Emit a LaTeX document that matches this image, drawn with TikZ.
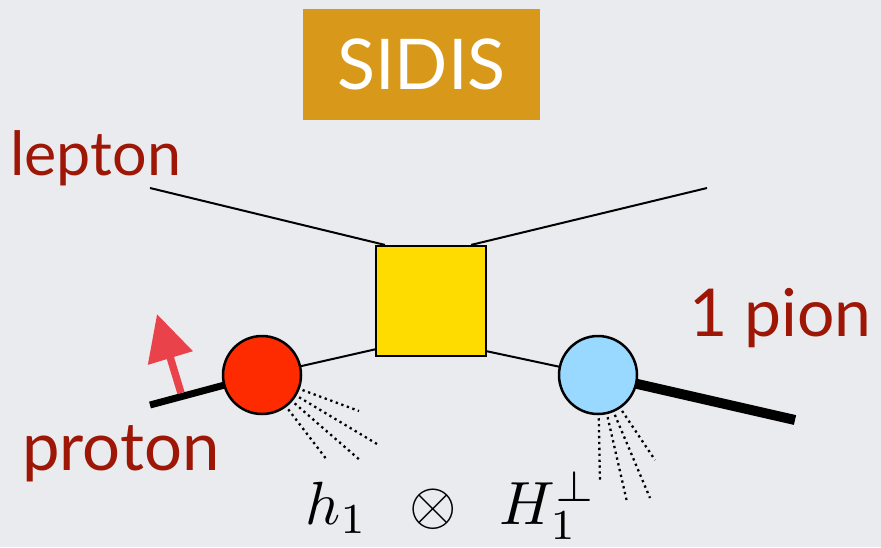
\documentclass[tikz,border=0pt]{standalone}
\usepackage{fontspec}
\newfontfamily\labelfont{Lato}
\usetikzlibrary{arrows.meta,calc}
\definecolor{bgc}{RGB}{233,235,238}
\definecolor{labred}{RGB}{158,22,6}
\definecolor{sidisc}{RGB}{216,153,27}
\definecolor{redc}{RGB}{255,43,0}
\definecolor{bluec}{RGB}{153,217,255}
\definecolor{yellowc}{RGB}{255,220,0}
\definecolor{arrowc}{RGB}{233,66,74}
\tikzset{
  lab/.style={text=labred, inner sep=0pt, anchor=base west},
  thinline/.style={line width=2pt, black},
  thickline/.style={line width=7pt, black},
  blob/.style={circle, draw=black, line width=2.5pt, minimum size=78pt, inner sep=0pt},
  dotline/.style={line width=2.3pt, dash pattern=on 2.3pt off 3.6pt, shorten <=3pt},
}
\begin{document}
\begin{tikzpicture}[x=1pt,y=-1pt]
\fill[bgc] (0,0) rectangle (881,547);
\useasboundingbox (0,0) rectangle (881,547);

% title
\node[fill=sidisc, minimum width=237pt, minimum height=111pt, inner sep=0pt,
      text=white, font=\labelfont\fontsize{70}{80}\selectfont] (title) at (421.5,64.5) {SIDIS};

% labels
\node[lab, font=\labelfont\fontsize{61}{70}\selectfont] (lepton) at (10,175) {lepton};
\node[lab, font=\labelfont\fontsize{67}{78}\selectfont] (proton) at (22,470) {proton};
\node[lab, font=\labelfont\fontsize{66}{76}\selectfont] (pion) at (689,336) {1 pion};

% coordinates
\coordinate (lin) at (150,188);
\coordinate (lout) at (707,188);
\coordinate (pin) at (150,405);
\coordinate (pend) at (795,420);
\coordinate (atail) at (181,393);
\coordinate (atip) at (157,314);

% blobs (positions)
\coordinate (rcc) at (262,375);
\coordinate (bcc) at (598,375);

% lines behind blobs
\draw[thickline] (pin) -- (rcc);
\draw[line width=10pt] (bcc) -- (pend);
\draw[thinline] (rcc) -- (381,348);
\draw[thinline] (481,350) -- (bcc);

% box
\node[draw=black, line width=2.2pt, fill=yellowc, minimum size=110pt, inner sep=0pt] (box) at (431,301) {};
\draw[thinline] (lin) -- ($(box.north west)+(10,0)$);
\draw[thinline] ($(box.north east)+(-16,0)$) -- (lout);

\node[blob, fill=redc] (rc) at (rcc) {};
\node[blob, fill=bluec] (bc) at (bcc) {};

% arrow
\draw[arrowc, line width=7.5pt, -{Triangle[length=46pt,width=45pt]}] (atail) -- (atip);

% dotted fragments
\coordinate (r1) at (359,411);
\coordinate (r2) at (377,444);
\coordinate (r3) at (361,461);
\coordinate (r4) at (327,460);
\coordinate (b1) at (600,483);
\coordinate (b2) at (627,502);
\coordinate (b3) at (650,498);
\coordinate (b4) at (655,460);
\foreach \p in {r1,r2,r3,r4} \draw[dotline] (rc) -- (\p);
\foreach \p in {b1,b2,b3,b4} \draw[dotline] (bc) -- (\p);

% formula
\node[inner sep=0pt, anchor=base west] (formula) at (305,524)
  {\scalebox{6.1}{$h_1\hspace{4.7pt}\otimes\hspace{4.7pt}H_1^{\perp}$}};
\end{tikzpicture}
\end{document}
